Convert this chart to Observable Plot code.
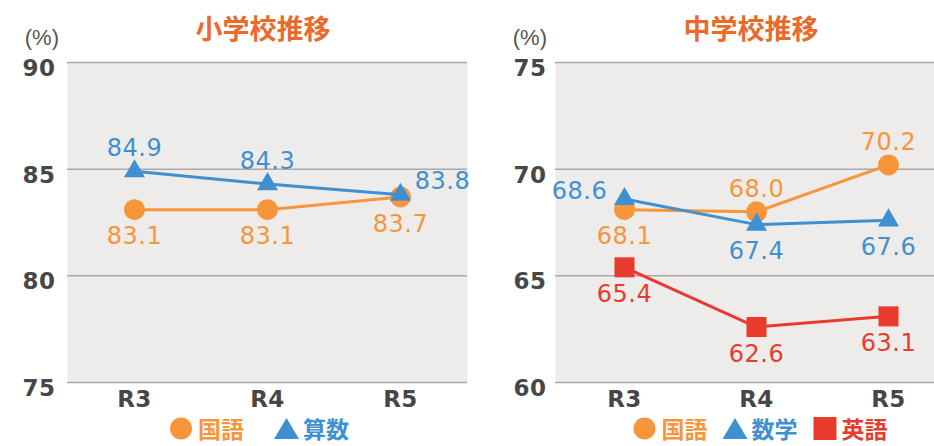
<!DOCTYPE html>
<html><head><meta charset="utf-8">
<script src="https://cdn.jsdelivr.net/npm/d3@7"></script>
<script src="https://cdn.jsdelivr.net/npm/@observablehq/plot@0.6"></script>
<style>
html,body{margin:0;padding:0;background:#fff;overflow:hidden;}
#wrap{position:relative;width:934px;height:446px;}
.panel{position:absolute;top:0;height:446px;}
.title{position:absolute;top:12px;transform:translateX(-50%);font-family:"Noto Sans CJK JP",sans-serif;font-weight:700;font-size:27px;color:#e96a2b;white-space:nowrap;line-height:1.2;}
.unit{position:absolute;top:27px;font-family:"Liberation Sans",sans-serif;font-size:22px;color:#555;line-height:1;transform:translateX(-100%);}
.chart{position:absolute;top:50px;left:0;}
.legend{position:absolute;top:416px;transform:translateX(-50%);display:flex;align-items:center;white-space:nowrap;font-family:"Noto Sans CJK JP",sans-serif;font-weight:700;font-size:23px;line-height:25px;}
.legend .item{display:flex;align-items:center;}
.legend svg{margin-right:4px;}
</style>
</head><body>
<div id="wrap"></div>
<script>
const years = ["R3", "R4", "R5"];
// 小学校
const elemTicks = [75, 80, 85, 90];
const elemKokugo = [83.1, 83.1, 83.7];
const elemSansu = [84.9, 84.3, 83.8];
// 中学校
const jhTicks = [60, 65, 70, 75];
const jhKokugo = [68.1, 68.0, 70.2];
const jhSugaku = [68.6, 67.4, 67.6];
const jhEigo = [65.4, 62.6, 63.1];

const ORANGE = "#f7953a", BLUE = "#3f90d0", RED = "#e83b2e";
const offsets = {
  above: {dx: 0, dy: -23},
  below: {dx: 0, dy: 27},
  right: {dx: 42, dy: -13},
  left: {dx: -45, dy: -8}
};

function toRows(values) { return years.map((year, i) => ({year, value: values[i]})); }

function makeChart(cfg) {
  const marks = [
    Plot.frame({fill: "#edecea", stroke: null}),
    Plot.ruleY(cfg.ticks, {stroke: "#a9a9a9", strokeWidth: 1.5}),
    Plot.axisY(cfg.ticks, {tickSize: 0, tickPadding: cfg.tickPad, fontSize: 23, fontWeight: 700, color: "#474747", dy: 6, label: null}),
    Plot.axisX(years, {tickSize: 0, tickPadding: 8, fontSize: 23, fontWeight: 700, color: "#474747", label: null})
  ];
  for (const s of cfg.series) {
    const rows = toRows(s.values);
    marks.push(Plot.line(rows, {x: "year", y: "value", stroke: s.color, strokeWidth: 3}));
    marks.push(Plot.dot(rows, {x: "year", y: "value", symbol: s.symbol, r: s.r, fill: s.color, stroke: null}));
  }
  for (const s of cfg.series) {
    const rows = toRows(s.values);
    for (const key of Object.keys(offsets)) {
      const sub = rows.filter(d => s.place[d.year] === key);
      if (!sub.length) continue;
      marks.push(Plot.text(sub, {
        x: "year", y: "value", text: d => d.value.toFixed(1),
        dx: offsets[key].dx, dy: offsets[key].dy,
        fill: s.color, fontSize: 24, fontFamily: "DejaVu Sans"
      }));
    }
  }
  const svg = Plot.plot({
    width: cfg.width, height: 364,
    marginTop: 12, marginBottom: 32, marginLeft: cfg.marginLeft, marginRight: cfg.marginRight,
    style: {fontFamily: "DejaVu Sans, sans-serif", background: "transparent", overflow: "visible"},
    x: {type: "point", domain: years, padding: cfg.padding, align: cfg.align, axis: null},
    y: {domain: [cfg.ticks[0], cfg.ticks[cfg.ticks.length - 1]], axis: null},
    marks
  });
  svg.querySelectorAll("text").forEach(t => t.style.letterSpacing = "0.5px");
  return svg;
}

function symbolSvg(kind, color) {
  const ns = "http://www.w3.org/2000/svg";
  const s = document.createElementNS(ns, "svg");
  s.setAttribute("width", 25); s.setAttribute("height", 23);
  let el;
  if (kind === "circle") { el = document.createElementNS(ns, "circle"); el.setAttribute("cx", 12); el.setAttribute("cy", 11.5); el.setAttribute("r", 11); }
  else if (kind === "triangle") { el = document.createElementNS(ns, "path"); el.setAttribute("d", "M12.5,1L25,22H0Z"); }
  else { el = document.createElementNS(ns, "rect"); el.setAttribute("x", 1); el.setAttribute("y", 0); el.setAttribute("width", 23); el.setAttribute("height", 23); }
  el.setAttribute("fill", color);
  s.appendChild(el);
  return s;
}

function makePanel(cfg) {
  const p = document.createElement("div");
  p.className = "panel"; p.style.left = cfg.left + "px"; p.style.width = cfg.width + "px";
  const t = document.createElement("div"); t.className = "title"; t.textContent = cfg.title; t.style.left = cfg.titleX + "px"; p.appendChild(t);
  const u = document.createElement("div"); u.className = "unit"; u.textContent = "(%)"; u.style.left = cfg.unitX + "px"; p.appendChild(u);
  const c = document.createElement("div"); c.className = "chart"; c.appendChild(makeChart(cfg)); p.appendChild(c);
  const lg = document.createElement("div"); lg.className = "legend"; lg.style.left = cfg.legendX + "px"; lg.style.gap = cfg.legendGap + "px";
  cfg.series.forEach(s => {
    const it = document.createElement("div"); it.className = "item";
    it.appendChild(symbolSvg(s.symbol, s.color));
    const sp = document.createElement("span"); sp.textContent = s.name; sp.style.color = s.color;
    it.appendChild(sp); lg.appendChild(it);
  });
  p.appendChild(lg);
  document.getElementById("wrap").appendChild(p);
}

makePanel({
  left: 0, width: 470, marginLeft: 67, marginRight: 3, padding: 0.5, align: 0.5, tickPad: 12,
  title: "小学校推移", titleX: 263, unitX: 59, legendX: 259, legendGap: 30,
  ticks: elemTicks,
  series: [
    {name: "国語", values: elemKokugo, color: ORANGE, symbol: "circle", r: 10.5, place: {R3: "below", R4: "below", R5: "below"}},
    {name: "算数", values: elemSansu, color: BLUE, symbol: "triangle", r: 7.8, place: {R3: "above", R4: "above", R5: "right"}}
  ]
});
makePanel({
  left: 470, width: 464, marginLeft: 85, marginRight: 0, padding: 0.43, align: 0.6, tickPad: 9,
  title: "中学校推移", titleX: 281, unitX: 77, legendX: 290, legendGap: 15,
  ticks: jhTicks,
  series: [
    {name: "国語", values: jhKokugo, color: ORANGE, symbol: "circle", r: 10.5, place: {R3: "below", R4: "above", R5: "above"}},
    {name: "数学", values: jhSugaku, color: BLUE, symbol: "triangle", r: 7.8, place: {R3: "left", R4: "below", R5: "below"}},
    {name: "英語", values: jhEigo, color: RED, symbol: "square", r: 11.3, place: {R3: "below", R4: "below", R5: "below"}}
  ]
});
</script>
</body></html>
